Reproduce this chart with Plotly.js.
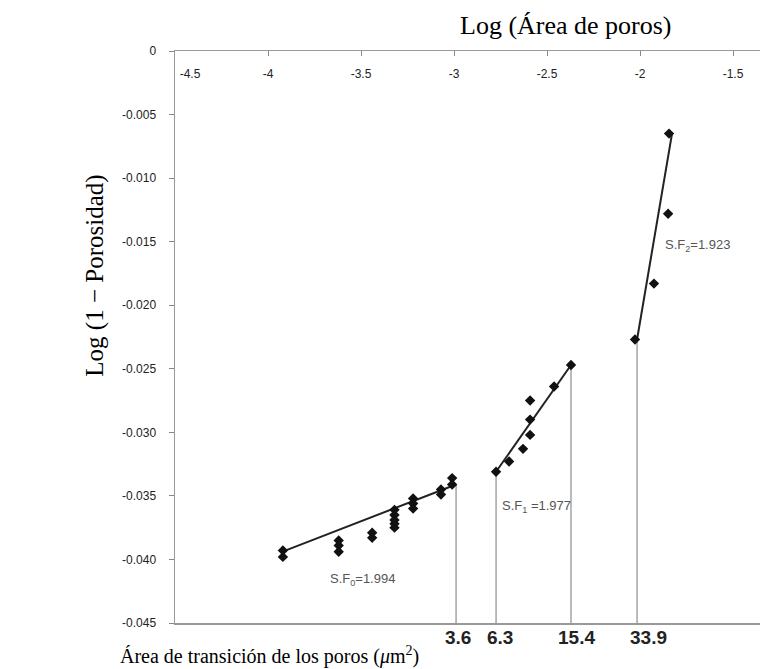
<!DOCTYPE html>
<html>
<head>
<meta charset="utf-8">
<script src="https://cdn.plot.ly/plotly-3.0.1.min.js"></script>
<style>html,body{margin:0;padding:0;background:#fff;}#chart{width:767px;height:669px;}</style>
</head>
<body>
<div id="chart"></div>
<script>
// ---- data ----
const sf0X = [-3.92,-3.92,-3.62,-3.62,-3.62,-3.44,-3.44,-3.32,-3.32,-3.32,-3.32,-3.32,-3.22,-3.22,-3.22,-3.07,-3.07,-3.01,-3.01];
const sf0Y = [-0.0393,-0.0398,-0.0385,-0.0389,-0.0394,-0.0379,-0.0383,-0.0361,-0.0365,-0.0369,-0.0372,-0.0375,-0.0352,-0.0356,-0.0360,-0.0345,-0.0349,-0.0336,-0.0341];
const sf1X = [-2.774,-2.704,-2.629,-2.591,-2.591,-2.591,-2.462,-2.371];
const sf1Y = [-0.0331,-0.0323,-0.0313,-0.0302,-0.0290,-0.0275,-0.0264,-0.0247];
const sf2X = [-2.027,-1.925,-1.849,-1.844];
const sf2Y = [-0.0227,-0.0183,-0.0128,-0.0065];

const fit0X = [-3.925,-2.989], fit0Y = [-0.0394,-0.0341];
const fit1X = [-2.774,-2.371], fit1Y = [-0.0331,-0.0247];
const fit2X = [-2.016,-1.828], fit2Y = [-0.0227,-0.0065];

const transX = [-2.989,-2.774,-2.371,-2.016];
const transTopY = [-0.0341,-0.0331,-0.0247,-0.0227];
const transLabels = ['3.6','6.3','15.4','33.9'];

const sfLabels = ['S.F<sub>0</sub>=1.994','S.F<sub>1</sub> =1.977','S.F<sub>2</sub>=1.923'];
const sfLabelX = [-3.49,-2.554,-1.69];
const sfLabelY = [-0.0416,-0.0358,-0.0153];

const xTickVals = [-4.5,-4,-3.5,-3,-2.5,-2,-1.5];
const xTickText = ['\u00a0\u00a0\u00a0\u00a0\u00a0\u00a0\u00a0\u00a0\u00a0-4.5','-4','-3.5','-3','-2.5','-2','-1.5'];
const yTickVals = [0,-0.005,-0.010,-0.015,-0.020,-0.025,-0.030,-0.035,-0.040,-0.045];
const yTickText = ['0','-0.005','-0.010','-0.015','-0.020','-0.025','-0.030','-0.035','-0.040','-0.045'];

const BOTTOM = -0.045;

// ---- build traces ----
const vx = [], vy = [];
transX.forEach((x,i)=>{ vx.push(x,x,null); vy.push(transTopY[i],BOTTOM,null); });

const markerStyle = {symbol:'diamond', size:8, color:'#111'};
const traces = [
  {x:vx, y:vy, mode:'lines', line:{color:'#777', width:1}, hoverinfo:'skip'},
  {x:fit0X, y:fit0Y, mode:'lines', line:{color:'#222', width:2}},
  {x:fit1X, y:fit1Y, mode:'lines', line:{color:'#222', width:2}},
  {x:fit2X, y:fit2Y, mode:'lines', line:{color:'#222', width:2}},
  {x:sf0X, y:sf0Y, mode:'markers', marker:markerStyle},
  {x:sf1X, y:sf1Y, mode:'markers', marker:markerStyle},
  {x:sf2X, y:sf2Y, mode:'markers', marker:markerStyle}
];

const serif = 'Liberation Serif, Times New Roman, serif';
const sans = 'Liberation Sans, Arial, sans-serif';

const annotations = [];
sfLabels.forEach((t,i)=>annotations.push({x:sfLabelX[i], y:sfLabelY[i], xref:'x', yref:'y', xanchor:'center', yanchor:'middle', text:t, showarrow:false, font:{family:sans, size:13, color:'#555'}}));
const labelShift = [2,4,5,11];
transLabels.forEach((t,i)=>annotations.push({x:transX[i], y:-0.026, xref:'x', yref:'paper', xanchor:'center', yanchor:'middle', xshift:labelShift[i], text:'<b>'+t+'</b>', showarrow:false, font:{family:sans, size:19, color:'#222'}}));
annotations.push({x:0.668, y:1.045, xref:'paper', yref:'paper', xanchor:'center', yanchor:'middle', text:'Log (Área de poros)', showarrow:false, font:{family:serif, size:26, color:'#000'}});
annotations.push({x:-0.137, y:0.607, xref:'paper', yref:'paper', xanchor:'center', yanchor:'middle', text:'Log (1 − Porosidad)', textangle:-90, showarrow:false, font:{family:serif, size:25, color:'#000'}});
annotations.push({x:-0.098, y:-0.056, xref:'paper', yref:'paper', xanchor:'left', yanchor:'middle', text:'Área de transición de los poros (<i>μ</i>m<sup>2</sup>)', showarrow:false, font:{family:serif, size:20, color:'#000'}});

const layout = {
  width:767, height:669,
  margin:{l:175, r:7, t:51, b:46},
  paper_bgcolor:'#fff', plot_bgcolor:'#fff',
  showlegend:false,
  xaxis:{
    side:'top', range:[-4.5,-1.355], tickvals:xTickVals, ticktext:xTickText,
    ticks:'inside', ticklen:5, tickcolor:'#888',
    ticklabelposition:'inside', ticklabeloverflow:'allow', ticklabelstandoff:13,
    showline:true, linecolor:'#999', linewidth:1.5, mirror:true,
    showgrid:false, zeroline:false,
    tickfont:{family:sans, size:12, color:'#222'}
  },
  yaxis:{
    range:[-0.045,0], tickvals:yTickVals, ticktext:yTickText,
    ticks:'outside', ticklen:5, tickcolor:'#888', ticklabelstandoff:10,
    showline:true, linecolor:'#999', linewidth:1.5,
    showgrid:false, zeroline:false,
    tickfont:{family:sans, size:12, color:'#222'}
  },
  annotations:annotations
};

Plotly.newPlot('chart', traces, layout, {displayModeBar:false, staticPlot:true});
</script>
</body>
</html>
